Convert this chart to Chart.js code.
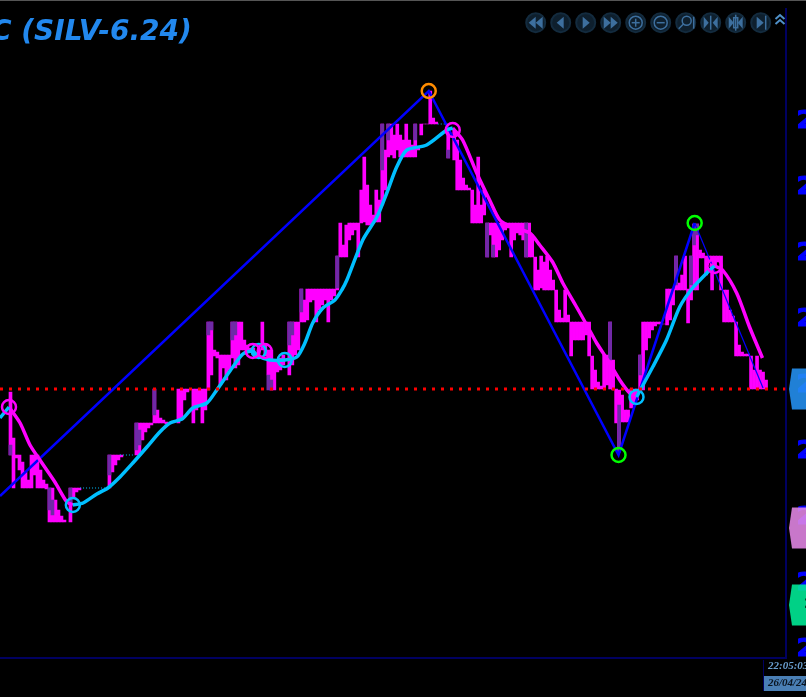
<!DOCTYPE html>
<html>
<head>
<meta charset="utf-8">
<title>SILV-6.24</title>
<script src="https://cdn.jsdelivr.net/npm/chart.js@4"></script>
<style>
html, body { margin: 0; padding: 0; background: #000; overflow: hidden; }
canvas { display: block; }
</style>
</head>
<body>
<canvas id="silvChart" width="806" height="697"></canvas>
<script>
// price axis
const yTickValues = [27.764, 27.698, 27.632, 27.566, 27.500, 27.434, 27.368, 27.302, 27.236];
const lastPrice = 27.496;
const flagPrices = [27.496, 27.357, 27.280];
const flagColors = ["#2492f4", "#e488e6", "#00ee98"];

// price bars, one every bar number
const barIndex = [3,4,5,6,7,8,9,10,11,12,13,14,15,16,17,18,19,20,21,23,24,25,26,
  36,37,38,39,40,45,46,47,48,49,50,51,52,53,54,55,59,60,61,62,64,65,66,67,68,
  69,70,71,72,73,74,75,76,77,78,79,80,81,82,83,84,87,88,89,90,91,92,93,94,
  96,97,98,99,100,101,102,103,104,105,106,107,108,109,110,111,112,113,114,115,116,117,118,119,
  120,121,122,123,124,125,126,127,128,129,130,131,132,133,134,135,136,137,138,139,140,141,142,143,144,145,
  149,151,152,153,154,155,156,157,158,159,160,161,162,163,164,165,166,167,168,169,170,171,172,173,174,175,176,177,
  178,179,180,181,182,183,184,185,186,187,188,189,190,191,192,193,194,195,196,197,198,199,200,201,202,203,204,205,206,207,208,209,
  210,211,212,213,214,215,216,217,218,219,220,221,222,223,224,225,226,227,228,229,230,231,232,233,234,235,236,237,238,239,240,
  241,242,243,244,245,246,247,248,249,250,251,252,253,254,255];
const barHigh = [27.493,27.447,27.430,27.430,27.423,27.413,27.405,27.430,27.430,27.430,27.415,27.405,27.401,27.397,27.397,27.385,27.375,27.369,27.365,27.397,27.397,27.397,27.397,
  27.430,27.430,27.430,27.430,27.430,27.462,27.462,27.462,27.462,27.462,27.462,27.496,27.475,27.467,27.465,27.463,27.496,27.496,27.496,27.496,27.496,27.496,27.496,27.496,27.496,
  27.563,27.563,27.535,27.533,27.530,27.530,27.530,27.530,27.563,27.563,27.563,27.563,27.545,27.540,27.537,27.537,27.563,27.540,27.535,27.535,27.525,27.525,27.527,27.530,
  27.563,27.563,27.563,27.563,27.596,27.585,27.596,27.596,27.596,27.596,27.596,27.596,27.596,27.596,27.596,27.596,27.629,27.662,27.640,27.660,27.662,27.662,27.662,27.662,
  27.695,27.728,27.700,27.680,27.670,27.695,27.685,27.761,27.735,27.761,27.761,27.750,27.761,27.750,27.745,27.761,27.745,27.740,27.761,27.738,27.761,27.761,27.761,27.794,27.767,27.763,
  27.755,27.755,27.745,27.725,27.707,27.700,27.697,27.695,27.680,27.728,27.680,27.695,27.662,27.662,27.662,27.662,27.662,27.662,27.662,27.662,27.662,27.662,27.662,27.662,27.662,27.662,27.662,27.650,
  27.628,27.615,27.629,27.623,27.629,27.615,27.605,27.595,27.575,27.567,27.595,27.570,27.563,27.563,27.563,27.563,27.563,27.563,27.563,27.529,27.515,27.503,27.499,27.530,27.530,27.563,27.525,27.496,27.495,27.490,27.475,27.475,
  27.496,27.496,27.496,27.530,27.563,27.563,27.563,27.563,27.563,27.563,27.563,27.561,27.596,27.596,27.596,27.629,27.602,27.610,27.629,27.596,27.629,27.661,27.661,27.635,27.632,27.629,27.629,27.629,27.629,27.629,27.629,
  27.595,27.595,27.575,27.569,27.563,27.540,27.533,27.531,27.531,27.529,27.515,27.529,27.515,27.513,27.505];
const barLow = [27.430,27.397,27.427,27.415,27.397,27.397,27.397,27.397,27.410,27.397,27.397,27.397,27.396,27.363,27.363,27.363,27.363,27.363,27.363,27.363,27.387,27.393,27.395,
  27.397,27.413,27.420,27.425,27.428,27.430,27.430,27.445,27.453,27.457,27.460,27.462,27.462,27.462,27.462,27.461,27.462,27.465,27.485,27.493,27.462,27.475,27.480,27.462,27.475,
  27.495,27.510,27.529,27.527,27.500,27.517,27.505,27.515,27.527,27.517,27.520,27.535,27.535,27.533,27.533,27.530,27.535,27.529,27.510,27.495,27.495,27.513,27.515,27.520,
  27.510,27.520,27.530,27.535,27.563,27.563,27.565,27.583,27.585,27.563,27.575,27.580,27.585,27.563,27.585,27.589,27.595,27.628,27.628,27.628,27.645,27.650,27.655,27.628,
  27.662,27.663,27.660,27.660,27.662,27.663,27.663,27.680,27.695,27.728,27.730,27.727,27.735,27.728,27.728,27.728,27.728,27.728,27.728,27.735,27.750,27.761,27.761,27.761,27.761,27.761,
  27.727,27.725,27.695,27.695,27.695,27.695,27.695,27.662,27.662,27.662,27.662,27.670,27.628,27.650,27.628,27.628,27.635,27.645,27.655,27.657,27.628,27.645,27.652,27.650,27.645,27.628,27.628,27.628,
  27.595,27.595,27.597,27.595,27.595,27.595,27.595,27.563,27.563,27.563,27.563,27.563,27.529,27.545,27.545,27.545,27.545,27.550,27.529,27.496,27.496,27.496,27.496,27.496,27.500,27.496,27.495,27.462,27.433,27.463,27.463,27.463,
  27.477,27.480,27.485,27.495,27.495,27.535,27.547,27.555,27.559,27.561,27.561,27.561,27.560,27.565,27.580,27.595,27.595,27.595,27.595,27.562,27.585,27.595,27.595,27.627,27.627,27.610,27.623,27.595,27.620,27.623,27.595,
  27.563,27.563,27.563,27.563,27.529,27.529,27.529,27.529,27.529,27.496,27.496,27.496,27.496,27.496,27.496];

// darker part of the bars
const darkIndex = [3,16,17,23,36,45,46,51,69,70,77,78,89,90,96,97,100,112,127,129,138,149,162,164,175,203,206,213,225,230,231,232];
const darkHigh = [27.440,27.397,27.385,27.397,27.430,27.462,27.455,27.496,27.563,27.563,27.563,27.563,27.510,27.505,27.563,27.563,27.596,27.629,27.761,27.761,27.761,27.735,27.662,27.640,27.662,27.563,27.480,27.530,27.629,27.629,27.661,27.661];
const darkLow = [27.430,27.375,27.370,27.380,27.410,27.435,27.440,27.470,27.550,27.555,27.545,27.550,27.495,27.495,27.540,27.550,27.573,27.597,27.715,27.745,27.745,27.727,27.628,27.628,27.628,27.525,27.433,27.510,27.600,27.600,27.640,27.650];

// smoothed lines, null where the line breaks
const cyanX = [0,3,null,24.3,27.7,32.3,36,40,44.3,49,53.3,56.7,60.7,64.3,69,72.3,76.7,81,84.3,86,90,95,99,101.7,104.3,107.7,111.7,114,115.7,121,125.7,129,132.3,135.7,142.3,149,151,null,212.3,217.7,222.3,226.7,231,236.7,238.3];
const cyanY = [27.467,27.478,null,27.380,27.382,27.391,27.397,27.408,27.422,27.438,27.453,27.462,27.466,27.477,27.482,27.495,27.514,27.531,27.534,27.529,27.525,27.525,27.528,27.542,27.562,27.577,27.585,27.595,27.605,27.645,27.668,27.692,27.718,27.735,27.740,27.755,27.757,null,27.488,27.518,27.545,27.578,27.597,27.615,27.619];
const pinkX = [3,6.7,10,13.3,18.3,22.3,24.3,null,151,154.3,159,163.3,166.7,170.7,176.7,180,184.3,187.7,192.3,195.7,199,202.7,206.7,210,212.3,null,236.7,238.3,241,245.7,250,254.3];
const pinkY = [27.478,27.462,27.440,27.425,27.403,27.383,27.380,null,27.757,27.745,27.712,27.685,27.665,27.658,27.652,27.640,27.623,27.602,27.578,27.560,27.542,27.525,27.505,27.492,27.488,null,27.620,27.619,27.615,27.592,27.558,27.527];

// zigzag
const zigX = [0,143,206.3,231.7];
const zigY = [27.389,27.794,27.430,27.662];
const zigLastX = [231.7,254.5];
const zigLastY = [27.662,27.497];

// swing markers
const pinkPivotX = [3,84.3,88.3,151,238.3];
const pinkPivotY = [27.478,27.534,27.534,27.755,27.619];
const cyanPivotX = [24.3,86.3,95,212.3];
const cyanPivotY = [27.380,27.534,27.525,27.488];
const topPivotX = [143];
const topPivotY = [27.794];
const lowPivotX = [206.3,231.7];
const lowPivotY = [27.430,27.662];

// small dotted stubs
const stubX = [26.7,35.7,null,40,44.3,null,146,150];
const stubY = [27.397,27.397,null,27.430,27.430,null,27.761,27.761];

function pts(xs, ys) {
  return xs.map((x, i) => ({ x: x, y: ys[i] }));
}
function barPts(xs, highs, lows) {
  return xs.map((x, i) => ({ x: x + 0.5, y: [lows[i], highs[i]] }));
}
function pivots(xs, ys, color) {
  return {
    type: "line", data: pts(xs, ys), showLine: false, order: 1,
    pointStyle: "circle", pointRadius: 7, pointBorderWidth: 2.5,
    pointBorderColor: color, pointBackgroundColor: "rgba(0,0,0,0)"
  };
}
function lineSet(xs, ys, color, width, order, extra) {
  return Object.assign({
    type: "line", data: pts(xs, ys), borderColor: color, borderWidth: width,
    pointRadius: 0, order: order, spanGaps: false
  }, extra || {});
}

// bits of the platform screen around the plot
const decor = {
  id: "decor",
  afterDraw(chart) {
    const c = chart.ctx;
    const y = chart.scales.y;
    c.save();
    // top edge
    c.fillStyle = "#555";
    c.fillRect(0, 0, 806, 1);
    // title
    c.fillStyle = "#2288ee";
    c.font = "italic bold 28px 'DejaVu Sans'";
    c.textBaseline = "alphabetic";
    c.textAlign = "left";
    c.fillText("C (SILV-6.24)", -9, 40);
    // toolbar
    for (let i = 0; i < 10; i++) drawButton(c, 535.7 + i * 25, 22.7, i);
    c.strokeStyle = "#4f90c8";
    c.lineWidth = 2;
    [15, 20].forEach(yy => {
      c.beginPath();
      c.moveTo(775.5, yy + 4); c.lineTo(780, yy); c.lineTo(784.5, yy + 4);
      c.stroke();
    });
    // price flags
    flagPrices.forEach((p, i) => {
      const py = y.getPixelForValue(p);
      c.globalAlpha = 0.88;
      c.fillStyle = flagColors[i];
      c.beginPath();
      c.moveTo(789, py);
      c.lineTo(792, py - 20.5); c.lineTo(806, py - 20.5);
      c.lineTo(806, py + 20.5); c.lineTo(792, py + 20.5);
      c.closePath();
      c.fill();
      c.globalAlpha = 1;
    });
    c.fillStyle = "#003020";
    c.font = "bold 14px 'DejaVu Sans'";
    c.textBaseline = "middle";
    c.fillText(flagPrices[2].toFixed(3), 804, y.getPixelForValue(flagPrices[2]) - 1);
    // time box
    c.fillStyle = "#000060";
    c.fillRect(763, 660, 1, 31);
    c.fillStyle = "#4a7fb5";
    c.fillRect(764, 676, 42, 15);
    c.font = "italic bold 11px 'Liberation Serif'";
    c.textBaseline = "middle";
    c.fillStyle = "#6a9fd0";
    c.fillText("22:05:03", 768, 666);
    c.fillStyle = "#0a1420";
    c.fillText("26/04/24", 768, 683.5);
    c.restore();
  }
};

function drawButton(c, x, y, kind) {
  c.fillStyle = "#0e1f2d";
  c.strokeStyle = "#132b3e";
  c.lineWidth = 2;
  c.beginPath(); c.arc(x, y, 9.5, 0, Math.PI * 2); c.fill(); c.stroke();
  c.fillStyle = "#3d6f9e";
  c.strokeStyle = "#3d6f9e";
  c.lineWidth = 1.5;
  const tri = (x0, dx) => {
    c.beginPath();
    c.moveTo(x0, y - 6); c.lineTo(x0, y + 6); c.lineTo(x0 + dx, y);
    c.closePath(); c.fill();
  };
  const bar = (x0, h) => { c.beginPath(); c.moveTo(x0, y - h); c.lineTo(x0, y + h); c.stroke(); };
  const hline = (x0, x1) => { c.beginPath(); c.moveTo(x0, y); c.lineTo(x1, y); c.stroke(); };
  if (kind === 0) { tri(x, -7); tri(x + 7, -7); }
  if (kind === 1) tri(x + 3, -7);
  if (kind === 2) tri(x - 3, 7);
  if (kind === 3) { tri(x - 7, 7); tri(x, 7); }
  if (kind === 4 || kind === 5) {
    c.beginPath(); c.arc(x, y, 6.5, 0, Math.PI * 2); c.stroke();
    hline(x - 4, x + 4);
    if (kind === 4) bar(x, 4);
  }
  if (kind === 6) {
    c.beginPath(); c.arc(x + 1, y - 2, 4.5, 0, Math.PI * 2); c.stroke();
    c.beginPath(); c.moveTo(x - 2, y + 1); c.lineTo(x - 7, y + 6); c.stroke();
    bar(x + 8, 6);
  }
  if (kind === 7 || kind === 8) {
    bar(x, kind === 7 ? 7 : 8);
    tri(x - 7, 5); tri(x + 7, -5);
    if (kind === 8) c.strokeRect(x - 2, y - 5, 4, 10);
  }
  if (kind === 9) { tri(x - 4, 7); bar(x + 5, 7); }
}

new Chart("silvChart", {
  type: "bar",
  data: {
    datasets: [
      lineSet([0, 262], [lastPrice, lastPrice], "#ff0000", 3, 0, { borderDash: [3, 6] }),
      pivots(pinkPivotX, pinkPivotY, "#ff00ff"),
      pivots(cyanPivotX, cyanPivotY, "#00bfff"),
      pivots(topPivotX, topPivotY, "#ff8c00"),
      pivots(lowPivotX, lowPivotY, "#00ff00"),
      lineSet(cyanX, cyanY, "#00bfff", 3.5, 2, { tension: 0.25 }),
      lineSet(pinkX, pinkY, "#ff00ff", 3.5, 3, { tension: 0.25 }),
      lineSet(zigX, zigY, "#0000ff", 2.5, 4),
      lineSet(zigLastX, zigLastY, "#0000ff", 1.2, 4),
      lineSet(stubX, stubY, "#00bfff", 1, 5, { borderDash: [1, 2] }),
      { type: "bar", data: barPts(darkIndex, darkHigh, darkLow), backgroundColor: "#6f2aa6", barThickness: 3, grouped: false, order: 6 },
      { type: "bar", data: barPts(barIndex, barHigh, barLow), backgroundColor: "#ff00ff", barThickness: 3, grouped: false, order: 7 }
    ]
  },
  options: {
    responsive: false,
    animation: false,
    devicePixelRatio: 1,
    layout: { autoPadding: false, padding: { top: 9, left: 0, right: -90, bottom: 0 } },
    plugins: { legend: { display: false }, tooltip: { enabled: false }, title: { display: false } },
    scales: {
      x: {
        type: "linear", min: 0, max: 262, offset: false,
        grid: { display: false },
        border: { color: "#000060", width: 2 },
        ticks: { display: false },
        afterFit(s) { s.height = 39; }
      },
      y: {
        position: "right",
        min: 27.227, max: 27.876,
        grid: { display: false },
        border: { color: "#000060", width: 2 },
        afterBuildTicks(s) { s.ticks = yTickValues.map(v => ({ value: v })); },
        ticks: {
          autoSkip: false,
          padding: 3,
          color: "#0000ff",
          crossAlign: "near",
          textStrokeColor: "#0000ff",
          textStrokeWidth: 1,
          font: { family: "DejaVu Sans", weight: "bold", size: 25 },
          callback: v => v.toFixed(3)
        },
        afterFit(s) { s.paddingTop = 0; s.paddingBottom = 0; }
      }
    }
  },
  plugins: [decor]
});
</script>
</body>
</html>
